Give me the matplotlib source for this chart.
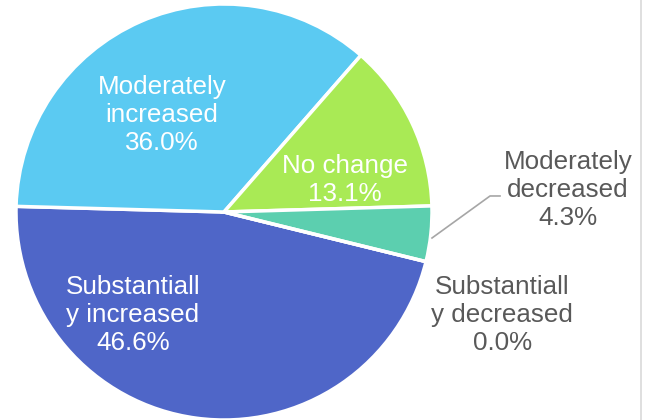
import matplotlib.pyplot as plt
from matplotlib.lines import Line2D

plt.rcParams["font.family"] = ["Liberation Sans", "DejaVu Sans"]

categories = [
    "Substantially increased",
    "Moderately increased",
    "No change",
    "Moderately decreased",
    "Substantially decreased",
]
shares = [46.6, 36.0, 13.1, 4.3, 0.0]
label_text = [
    "Substantiall\ny increased",
    "Moderately\nincreased",
    "No change",
    "Moderately\ndecreased",
    "Substantiall\ny decreased",
]
colors = ["#4F66C8", "#5BCAF2", "#A9EA55", "#5CCFAF", "#3F5FC0"]

W, H = 651, 420
cx, cy, r = 224, 212, 208

fig = plt.figure(figsize=(W / 100, H / 100), dpi=100)
ax = fig.add_axes([(cx - r) / W, (H - cy - r) / H, 2 * r / W, 2 * r / H])

ax.pie(
    shares,
    colors=colors,
    startangle=-13.8,
    counterclock=False,
    radius=1.0,
    wedgeprops=dict(edgecolor="white", linewidth=2.5),
)
ax.set_xlim(-1, 1)
ax.set_ylim(-1, 1)
ax.axis("off")

fs = 18.7
gray = "#595959"

# label positions in pie-radius units
inside = {0: (-0.4375, -0.495), 1: (-0.298, 0.466), 2: (0.58, 0.154)}
outside = {3: (1.654, 0.106), 4: (1.337, -0.495)}

for i, (x, y) in inside.items():
    ax.text(x, y, f"{label_text[i]}\n{shares[i]:.1f}%", ha="center", va="center",
            color="white", fontsize=fs, linespacing=1.22, clip_on=False)

for i, (x, y) in outside.items():
    ax.text(x, y, f"{label_text[i]}\n{shares[i]:.1f}%", ha="center", va="center",
            color=gray, fontsize=fs, linespacing=1.22, clip_on=False)

# leader line for the thin slice
ax.plot([1.0, 1.279, 1.327], [-0.125, 0.077, 0.077], color="#A6A6A6",
        linewidth=1.2, clip_on=False)

# chart area border on the right
fig.add_artist(Line2D([641 / W, 641 / W], [0, 1], color="#D9D9D9", linewidth=1.2))

fig.savefig("out.png", dpi=100)
